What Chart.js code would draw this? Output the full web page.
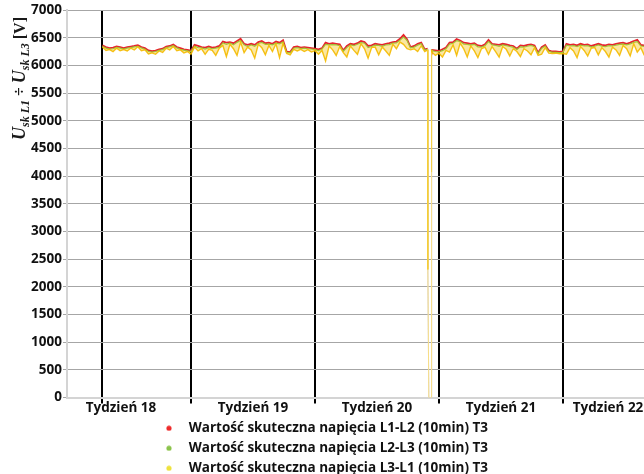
<!DOCTYPE html>
<html>
<head>
<meta charset="utf-8">
<script src="https://cdn.jsdelivr.net/npm/chart.js@4/dist/chart.umd.min.js"></script>
<style>
  html, body { margin: 0; padding: 0; background: #ffffff; }
  #wrap { width: 644px; height: 474px; position: relative; }
</style>
</head>
<body>
<div id="wrap"><canvas id="chart"></canvas></div>
<script>
// Time axis in days counted from the start of week 18
const axisEndDay = 32.58;
const weekBoundaries = [2, 7, 14, 21, 28];
const weekLabelDays = [3.05, 10.5, 17.5, 24.5, 30.55];
const weekLabels = ['Tydzień 18', 'Tydzień 19', 'Tydzień 20', 'Tydzień 21', 'Tydzień 22'];

// Regular samples: first sample day and spacing (days)
const sampleStartDay = 2.0;
const sampleStepDays = 0.2;

const seriesNames = [
  'Wartość skuteczna napięcia L1-L2 (10min) T3',
  'Wartość skuteczna napięcia L2-L3 (10min) T3',
  'Wartość skuteczna napięcia L3-L1 (10min) T3'
];

// RMS line voltages [V]; null where the supply interruption samples below take over
const voltageL12 = [
  6360, 6330, 6310, 6320, 6340, 6330, 6310, 6330, 6340, 6350,
  6365, 6330, 6310, 6270, 6255, 6265, 6290, 6300, 6340, 6350,
  6375, 6330, 6310, 6290, 6280, 6265, 6370, 6350, 6330, 6320,
  6340, 6320, 6330, 6350, 6430, 6410, 6420, 6400, 6440, 6480,
  6390, 6370, 6390, 6370, 6420, 6440, 6400, 6410, 6390, 6430,
  6410, 6455, 6250, 6240, 6330, 6340, 6320, 6330, 6320, 6310,
  6300, 6290, 6310, 6410, 6390, 6400, 6390, 6380, 6270, 6350,
  6390, 6380, 6400, 6440, 6420, 6350, 6360, 6390, 6380, 6370,
  6390, 6400, 6420, 6430, 6480, 6550, 6470, 6330, 6350, 6390,
  6410, 6290, null, 6280, 6270, 6260, 6290, 6320, 6410, 6420,
  6475, 6450, 6410, 6400, 6390, 6400, 6360, 6350, 6380, 6460,
  6390, 6380, 6370, 6390, 6380, 6360, 6350, 6300, 6360, 6350,
  6370, 6380, 6360, 6230, 6330, 6370, 6270, 6250, 6250, 6245,
  6250, 6390, 6370, 6380, 6360, 6390, 6370, 6380, 6350, 6370,
  6390, 6370, 6360, 6380, 6370, 6390, 6400, 6410, 6390, 6410,
  6440, 6460, 6370, 6360
];
const voltageL23 = [
  6345, 6310, 6295, 6300, 6325, 6310, 6295, 6310, 6320, 6335,
  6345, 6315, 6290, 6250, 6240, 6250, 6270, 6285, 6320, 6335,
  6355, 6315, 6290, 6275, 6260, 6250, 6345, 6320, 6315, 6295,
  6320, 6300, 6310, 6325, 6405, 6380, 6400, 6370, 6415, 6450,
  6370, 6340, 6370, 6345, 6395, 6415, 6380, 6385, 6370, 6400,
  6390, 6420, 6235, 6225, 6310, 6320, 6305, 6310, 6300, 6295,
  6285, 6265, 6295, 6380, 6370, 6375, 6370, 6355, 6255, 6320,
  6370, 6355, 6380, 6410, 6400, 6320, 6340, 6365, 6360, 6345,
  6370, 6375, 6400, 6405, 6455, 6510, 6450, 6315, 6330, 6365,
  6390, 6275, null, 6265, 6250, 6245, 6265, 6300, 6385, 6400,
  6445, 6430, 6385, 6380, 6365, 6380, 6335, 6330, 6355, 6430,
  6370, 6360, 6345, 6370, 6355, 6340, 6325, 6285, 6335, 6330,
  6345, 6360, 6335, 6215, 6305, 6350, 6255, 6235, 6235, 6230,
  6235, 6365, 6350, 6355, 6340, 6365, 6350, 6355, 6330, 6345,
  6370, 6345, 6340, 6355, 6350, 6365, 6380, 6385, 6370, 6385,
  6415, 6430, 6350, 6340
];
const voltageL31 = [
  6330, 6270, 6285, 6250, 6310, 6265, 6285, 6260, 6310, 6280,
  6335, 6265, 6280, 6205, 6225, 6200, 6260, 6235, 6310, 6280,
  6340, 6265, 6280, 6225, 6250, 6200, 6330, 6260, 6300, 6200,
  6290, 6270, 6180, 6310, 6360, 6160, 6380, 6300, 6180, 6420,
  6230, 6330, 6280, 6130, 6380, 6320, 6190, 6360, 6250, 6390,
  6140, 6400, 6215, 6190, 6290, 6260, 6290, 6250, 6285, 6240,
  6265, 6200, 6270, 6080, 6350, 6280, 6180, 6340, 6230, 6150,
  6350, 6270, 6200, 6390, 6300, 6130, 6320, 6330, 6190, 6330,
  6260, 6180, 6380, 6300, 6420, 6380, 6300, 6280, 6300, 6250,
  6350, 6250, null, 6240, 6180, 6220, 6150, 6270, 6240, 6370,
  6180, 6400, 6300, 6150, 6350, 6260, 6140, 6300, 6330, 6200,
  6340, 6250, 6150, 6340, 6290, 6170, 6300, 6250, 6160, 6300,
  6260, 6190, 6320, 6180, 6200, 6320, 6220, 6215, 6220, 6210,
  6215, 6200, 6320, 6260, 6140, 6340, 6270, 6170, 6310, 6320,
  6190, 6320, 6250, 6150, 6330, 6280, 6180, 6360, 6300, 6170,
  6390, 6240, 6320, 6180
];

// Supply interruption in week 20 (days, volts)
const outageDays = [20.37, 20.375, 20.43, 20.575, 20.585, 20.59];
const outageL12 = [6300, 2330, 0, 0, 4090, 6290];
const outageL23 = [6290, 2320, 0, 0, 4080, 6285];
const outageL31 = [6280, 2310, 0, 0, 4070, 6280];

// Y axis range
const yMin = 0, yMax = 7000, yStep = 500;

function buildPoints(values, outageValues) {
  const pts = [];
  values.forEach((v, i) => {
    if (v !== null) pts.push({ x: sampleStartDay + i * sampleStepDays, y: v });
  });
  outageDays.forEach((d, k) => pts.push({ x: d, y: outageValues[k] }));
  pts.sort((a, b) => a.x - b.x);
  return pts;
}

const isBoundary = v => weekBoundaries.some(b => Math.abs(b - v) < 1e-6);
const FONT = "'Open Sans', 'Liberation Sans', sans-serif";

// Small round legend markers
function dot(color) {
  const c = document.createElement('canvas');
  c.width = 6; c.height = 6;
  const g = c.getContext('2d');
  g.fillStyle = color;
  g.beginPath(); g.arc(3, 3, 2.6, 0, Math.PI * 2); g.fill();
  return c;
}

// Interruption segments: steep drops are drawn thin, the ones touching zero pale
const segMin = c => Math.min(c.p0.parsed.y, c.p1.parsed.y);
const paleForDrop = c => segMin(c) < 5000 ? 'rgba(205,205,220,0.6)' : undefined;
const thinForDrop = c => segMin(c) < 5000 ? 1 : undefined;
const yellowDrop = c => {
  const m = segMin(c);
  if (m < 1000) return 'rgba(250, 222, 130, 0.95)';
  if (m < 5000) return 'rgba(248, 206, 50, 1)';
  return undefined;
};

// Rotated axis title with subscripts
const axisTitlePlugin = {
  id: 'axisTitle',
  afterDraw(chart) {
    const ctx = chart.ctx;
    const serif = "'Liberation Serif', 'DejaVu Serif', serif";
    const parts = [
      { t: 'U', f: `italic bold 18px ${serif}`, dy: 0 },
      { t: 'sk L1', f: `italic bold 12px ${serif}`, dy: 4 },
      { t: ' ÷ ', f: `bold 16px ${serif}`, dy: 0 },
      { t: 'U', f: `italic bold 18px ${serif}`, dy: 0 },
      { t: 'sk L3', f: `italic bold 12px ${serif}`, dy: 4 },
      { t: ' [V]', f: `bold 16px ${serif}`, dy: 0 }
    ];
    ctx.save();
    let total = 0;
    parts.forEach(p => { ctx.font = p.f; p.w = ctx.measureText(p.t).width; total += p.w; });
    ctx.translate(25, 78.5);
    ctx.rotate(-Math.PI / 2);
    ctx.fillStyle = '#1a1a1a';
    ctx.textBaseline = 'alphabetic';
    ctx.textAlign = 'left';
    let x = -total / 2;
    parts.forEach(p => { ctx.font = p.f; ctx.fillText(p.t, x, p.dy); x += p.w; });
    ctx.restore();
  }
};

const legendDots = [dot('#ee2a2a'), dot('#8bc34a'), dot('#eee23c')];

new Chart(document.getElementById('chart'), {
  type: 'line',
  data: {
    datasets: [
      {
        label: seriesNames[0],
        data: buildPoints(voltageL12, outageL12),
        borderColor: '#e8242c',
        backgroundColor: '#ee2a2a',
        borderWidth: 1.8,
        order: 2,
        segment: { borderColor: paleForDrop, borderWidth: thinForDrop }
      },
      {
        label: seriesNames[1],
        data: buildPoints(voltageL23, outageL23),
        borderColor: '#8dc63f',
        backgroundColor: '#8bc34a',
        borderWidth: 1.2,
        order: 1,
        segment: { borderColor: paleForDrop, borderWidth: thinForDrop }
      },
      {
        label: seriesNames[2],
        data: buildPoints(voltageL31, outageL31),
        borderColor: 'rgba(244, 186, 0, 0.9)',
        backgroundColor: 'rgba(246, 196, 20, 0.4)',
        borderWidth: 1.4,
        order: 0,
        fill: { target: 1 },
        segment: { borderColor: yellowDrop, borderWidth: thinForDrop }
      }
    ]
  },
  options: {
    responsive: true,
    maintainAspectRatio: false,
    animation: false,
    devicePixelRatio: 1,
    layout: { padding: { left: 0, right: 0, top: 10, bottom: -11 } },
    elements: { point: { radius: 0, hoverRadius: 0 }, line: { tension: 0 } },
    scales: {
      x: {
        type: 'linear',
        min: 0,
        max: axisEndDay,
        z: 1,
        afterBuildTicks(scale) {
          scale.ticks = weekBoundaries.concat(weekLabelDays)
            .sort((a, b) => a - b)
            .map(v => ({ value: v }));
        },
        afterFit(scale) {
          scale.height = 17.5;
          // keep the week labels whole although the box is kept short
          scale._computeLabelArea = () => undefined;
        },
        ticks: {
          autoSkip: false,
          maxRotation: 0,
          padding: -3,
          color: '#111111',
          font: { family: FONT, size: 13.5, weight: '700' },
          callback(value) {
            const k = weekLabelDays.findIndex(d => Math.abs(d - value) < 1e-6);
            return k >= 0 ? weekLabels[k] : '';
          }
        },
        grid: {
          color: c => (c.tick && isBoundary(c.tick.value)) ? '#000000' : 'rgba(0,0,0,0)',
          tickColor: c => (c.tick && isBoundary(c.tick.value)) ? '#000000' : 'rgba(0,0,0,0)',
          lineWidth: 2,
          tickLength: 6,
          drawOnChartArea: true
        },
        border: { color: '#d4d4d4', width: 2 }
      },
      y: {
        min: yMin,
        max: yMax,
        afterFit(scale) { scale.width = 67; },
        ticks: {
          stepSize: yStep,
          padding: 1,
          color: '#111111',
          font: { family: FONT, size: 13.5, weight: '700' },
          callback: v => String(v)
        },
        grid: { color: '#a6a6a6', lineWidth: 1, tickLength: 4, tickColor: '#a6a6a6' },
        border: { color: '#d4d4d4', width: 2 }
      }
    },
    plugins: {
      tooltip: { enabled: false },
      filler: { propagate: false },
      legend: {
        position: 'bottom',
        labels: {
          usePointStyle: true,
          pointStyleWidth: 26,
          boxHeight: 6,
          padding: 6.5,
          color: '#111111',
          font: { family: FONT, size: 13.5, weight: '700' },
          generateLabels(chart) {
            const items = Chart.defaults.plugins.legend.labels.generateLabels(chart);
            items.forEach(it => {
              it.pointStyle = legendDots[it.datasetIndex];
              it.lineWidth = 0;
            });
            return items.sort((a, b) => a.datasetIndex - b.datasetIndex);
          }
        }
      }
    }
  },
  plugins: [axisTitlePlugin]
});
</script>
</body>
</html>
